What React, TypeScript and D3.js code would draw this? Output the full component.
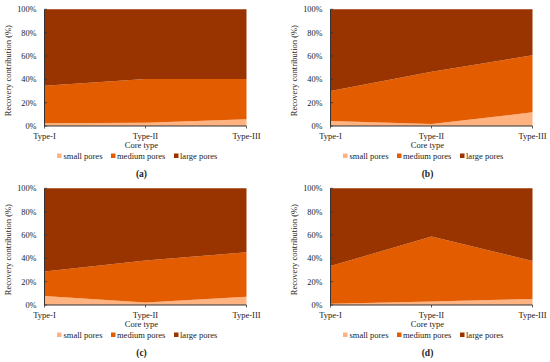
import React from "react";
import * as d3 from "d3";

const categories = ["Type-I", "Type-II", "Type-III"];
const seriesNames = ["small pores", "medium pores", "large pores"];
const yTicks = [0, 20, 40, 60, 80, 100];

const smallA = [2.3, 2.8, 5.7];
const mediumA = [32.1, 37.4, 34.6];
const largeA = [65.6, 59.8, 59.7];

const smallB = [4.3, 1.7, 11.7];
const mediumB = [25.6, 44.7, 49.0];
const largeB = [70.1, 53.6, 39.3];

const smallC = [7.7, 2.2, 7.0];
const mediumC = [21.1, 35.9, 38.2];
const largeC = [71.2, 61.9, 54.8];

const smallD = [1.0, 3.1, 5.1];
const mediumD = [32.4, 55.5, 32.6];
const largeD = [66.6, 41.4, 62.3];

const panelLabels = ["(a)", "(b)", "(c)", "(d)"];

const COLORS = ["#FFB380", "#E35D00", "#993300"];
const FONT = "'Liberation Serif', 'Times New Roman', serif";

type PanelProps = { small: number[]; medium: number[]; large: number[]; label: string; ox: number; oy: number };

function Panel({ small, medium, large, label, ox, oy }: PanelProps) {
  const left = 44.5, right = 246.5, top = 9.3, bottom = 126;
  const x = d3.scalePoint<string>().domain(categories).range([left, right]);
  const y = d3.scaleLinear().domain([0, 100]).range([bottom, top]);
  const rows = categories.map((c, i) => ({ cat: c, s0: small[i], s1: medium[i], s2: large[i] }));
  const stack = d3.stack<any>().keys(["s0", "s1", "s2"]);
  const layers = stack(rows);
  const area = d3
    .area<any>()
    .x((d) => x(d.data.cat) as number)
    .y0((d) => y(d[0]))
    .y1((d) => y(Math.min(d[1], 100)));
  const cx = (left + right) / 2;
  const legendItems = [
    { x: 57, tx: 63.5 },
    { x: 111, tx: 117 },
    { x: 174, tx: 180 },
  ];
  return (
    <g transform={`translate(${ox},${oy})`} fontFamily={FONT} fill="#222">
      {layers.map((layer, i) => (
        <path key={i} d={area(layer as any) || ""} fill={COLORS[i]} />
      ))}
      {/* axes */}
      <line x1={left} x2={left} y1={top} y2={bottom} stroke="#333" strokeWidth={1} />
      <line x1={left} x2={right} y1={bottom} y2={bottom} stroke="#333" strokeWidth={1} />
      {yTicks.map((t) => (
        <g key={t}>
          <line x1={left} x2={left + 2.5} y1={y(t)} y2={y(t)} stroke="#333" strokeWidth={0.8} />
          <text x={36.5} y={y(t) + 3} fontSize={8.3} textAnchor="end">
            {t}%
          </text>
        </g>
      ))}
      {categories.map((c) => (
        <g key={c}>
          <line x1={x(c)} x2={x(c)} y1={bottom} y2={bottom + 2.5} stroke="#333" strokeWidth={0.8} />
          <text x={x(c)} y={139} fontSize={8.5} textAnchor="middle">
            {c}
          </text>
        </g>
      ))}
      <text x={cx - 4} y={148} fontSize={8.5} textAnchor="middle">
        Core type
      </text>
      <text
        transform={`translate(11,${(top + bottom) / 2 + 3}) rotate(-90)`}
        fontSize={8.5}
        textAnchor="middle"
      >
        Recovery contribution (%)
      </text>
      {seriesNames.map((n, i) => (
        <g key={n}>
          <rect x={legendItems[i].x} y={153.5} width={4.5} height={4.5} fill={COLORS[i]} />
          <text x={legendItems[i].tx} y={159} fontSize={8.5}>
            {n}
          </text>
        </g>
      ))}
      <text x={cx - 4} y={177} fontSize={9.5} fontWeight="bold" textAnchor="middle">
        {label}
      </text>
    </g>
  );
}

export default function App() {
  const panels = [
    { small: smallA, medium: mediumA, large: largeA, ox: 0, oy: 0 },
    { small: smallB, medium: mediumB, large: largeB, ox: 286, oy: 0 },
    { small: smallC, medium: mediumC, large: largeC, ox: 0, oy: 179 },
    { small: smallD, medium: mediumD, large: largeD, ox: 286, oy: 179 },
  ];
  return (
    <svg
      width={550}
      height={362}
      style={{ position: "absolute", left: 0, top: 0, background: "#fff" }}
    >
      <rect width={550} height={362} fill="#fff" />
      {panels.map((p, i) => (
        <Panel key={i} {...p} label={panelLabels[i]} />
      ))}
    </svg>
  );
}
